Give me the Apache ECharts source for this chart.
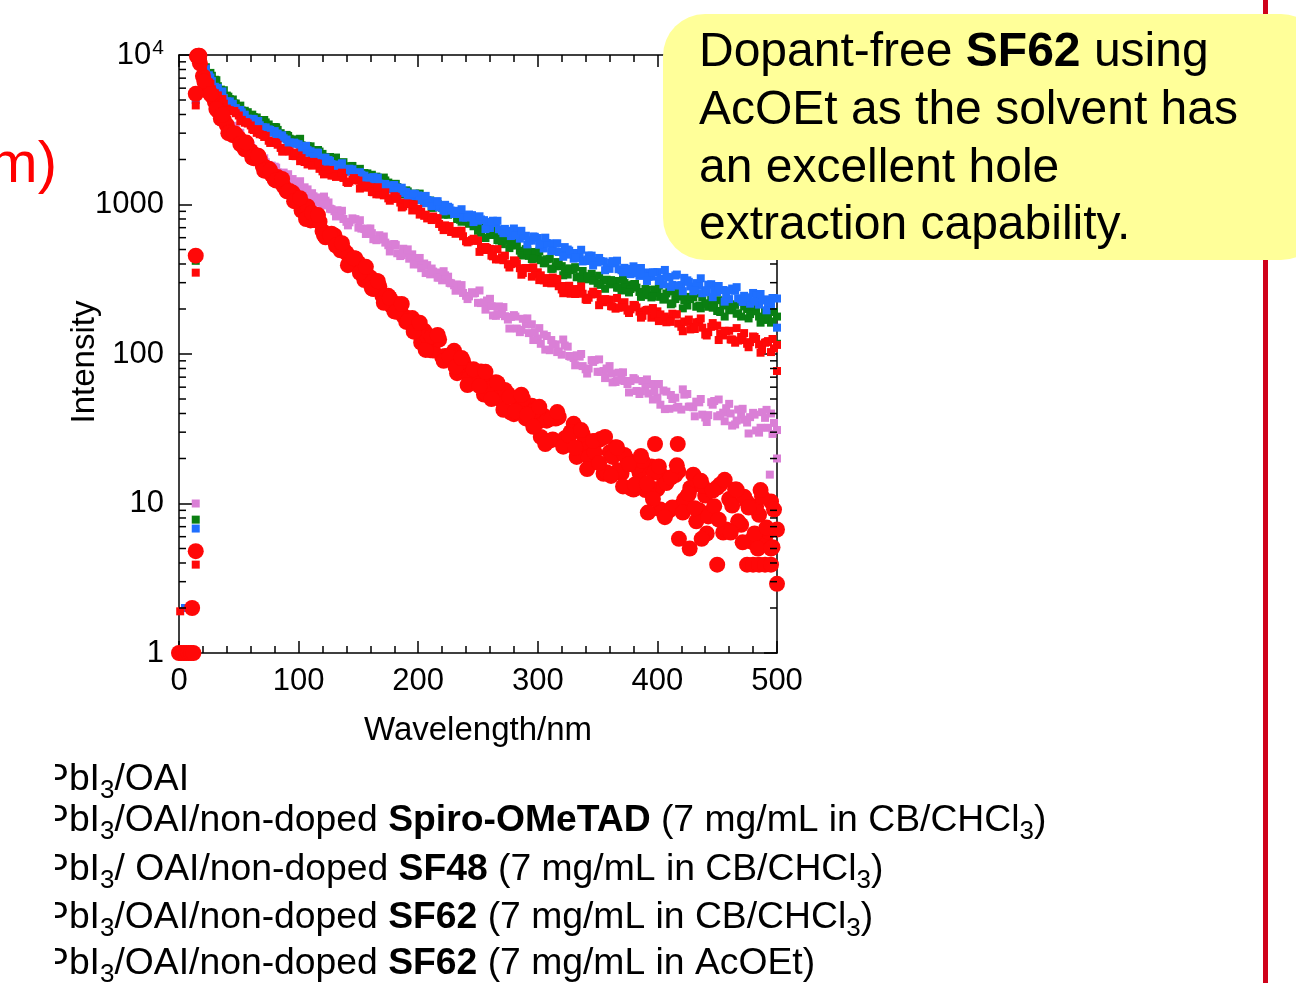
<!DOCTYPE html>
<html>
<head>
<meta charset="utf-8">
<script src="https://cdn.jsdelivr.net/npm/echarts@6/dist/echarts.min.js"></script>
<style>
html,body{margin:0;padding:0;background:#ffffff;}
#chart{width:1296px;height:983px;}
</style>
</head>
<body>
<div id="chart"></div>
<script>
// ---------------- DATA ----------------
// channel times
const time = [15,20,25,30,35,40,45,50,55,60,65,70,75,80,85,90,95,100,105,110,115,120,125,130,135,140,145,150,155,160,165,170,175,180,185,190,195,200,205,210,215,220,225,230,235,240,245,250,255,260,265,270,275,280,285,290,295,300,305,310,315,320,325,330,335,340,345,350,355,360,365,370,375,380,385,390,395,400,405,410,415,420,425,430,435,440,445,450,455,460,465,470,475,480,485,490,495,500];
const timeHalf = [17.5,22.5,27.5,32.5,37.5,42.5,47.5,52.5,57.5,62.5,67.5,72.5,77.5,82.5,87.5,92.5,97.5,102.5,107.5,112.5,117.5,122.5,127.5,132.5,137.5,142.5,147.5,152.5,157.5,162.5,167.5,172.5,177.5,182.5,187.5,192.5,197.5,202.5,207.5,212.5,217.5,222.5,227.5,232.5,237.5,242.5,247.5,252.5,257.5,262.5,267.5,272.5,277.5,282.5,287.5,292.5,297.5,302.5,307.5,312.5,317.5,322.5,327.5,332.5,337.5,342.5,347.5,352.5,357.5,362.5,367.5,372.5,377.5,382.5,387.5,392.5,397.5,402.5,407.5,412.5,417.5,422.5,427.5,432.5,437.5,442.5,447.5,452.5,457.5,462.5,467.5,472.5,477.5,482.5,487.5,492.5,497.5];
const timeQuarter = [16.25,21.25,26.25,31.25,36.25,41.25,46.25,51.25,56.25,61.25,66.25,71.25,76.25,81.25,86.25,91.25,96.25,101.25,106.25,111.25,116.25,121.25,126.25,131.25,136.25,141.25,146.25,151.25,156.25,161.25,166.25,171.25,176.25,181.25,186.25,191.25,196.25,201.25,206.25,211.25,216.25,221.25,226.25,231.25,236.25,241.25,246.25,251.25,256.25,261.25,266.25,271.25,276.25,281.25,286.25,291.25,296.25,301.25,306.25,311.25,316.25,321.25,326.25,331.25,336.25,341.25,346.25,351.25,356.25,361.25,366.25,371.25,376.25,381.25,386.25,391.25,396.25,401.25,406.25,411.25,416.25,421.25,426.25,431.25,436.25,441.25,446.25,451.25,456.25,461.25,466.25,471.25,476.25,481.25,486.25,491.25,496.25];

// blue squares
const blueVals = [9900,8500,7320,6130,5630,4900,4720,4230,3990,3630,
  3590,3290,3180,3100,2790,2720,2550,2530,2215,2270,
  2220,1985,1985,1765,1785,1655,1720,1575,1560,1420,
  1475,1350,1340,1350,1195,1215,1135,1150,1020,1060,
  1047,952,966,864,878,818,849,779,786,696,
  751,667,665,691,591,618,573,597,508,549,
  547,482,500,434,458,419,455,410,416,371,
  404,363,368,386,333,351,329,353,292,327,
  335,289,311,263,287,259,293,259,268,233,
  265,232,238,256,214,232,216,235];
const blueHalf = [9045,8100,6695,6035,5155,4895,4415,4135,3750,3720,
  3390,3280,3020,2985,2775,2600,2560,2360,2310,2100,
  2010,2060,1865,1850,1660,1735,1612,1582,1450,1525,
  1380,1373,1260,1300,1220,1148,1172,1080,1072,984,
  957,995,909,908,817,857,798,794,711,779,
  683,687,615,662,615,575,608,547,552,495,
  481,519,462,474,416,456,419,419,378,418,
  369,377,342,371,348,328,351,318,328,290,
  287,323,283,298,255,291,265,268,237,274,
  236,245,217,245,228,214,237];
const blueQuarter = [9860,7910,7070,5985,5705,4855,4350,4290,3715,3740,
  3620,3210,3150,2935,2905,2547,2595,2340,2470,2085,
  2220,1870,1952,1764,1888,1670,1542,1646,1409,1511,
  1513,1311,1337,1249,1295,1103,1182,1068,1142,975,
  1052,900,951,864,930,824,763,834,685,765,
  778,643,667,621,667,541,611,538,600,488,
  550,447,491,439,498,428,391,439,363,408,
  421,352,370,347,376,308,352,308,365,281,
  340,263,304,267,321,267,240,285,224,266,
  280,223,239,224,252,196,237];

// green squares
const greenVals = [9950,9000,7515,6830,5870,5350,5040,4420,4235,3920,
  3820,3455,3430,3300,3000,2920,2655,2610,2380,2450,
  2220,2180,1960,2015,1827,1800,1811,1600,1622,1518,
  1536,1356,1402,1372,1237,1244,1108,1120,1031,1063,
  966,948,854,878,791,775,775,667,684,627,
  645,543,574,568,491,503,431,448,404,433,
  386,387,340,367,329,330,344,296,311,292,
  308,266,289,293,260,272,239,256,231,262,
  233,242,211,240,211,217,233,194,211,196,
  213,178,200,206,178,191,162,178];
const greenHalf = [9590,8280,7260,6185,5810,5070,4735,4250,4145,3845,
  3595,3540,3275,3155,2890,2755,2725,2490,2460,2190,
  2260,2080,2023,1840,1920,1733,1711,1565,1614,1510,
  1417,1448,1328,1309,1195,1152,1183,1073,1066,952,
  983,906,882,799,829,743,729,646,683,625,
  575,601,534,532,470,453,481,424,430,372,
  402,366,364,326,359,316,321,290,314,294,
  278,298,272,278,252,247,270,241,254,218,
  251,229,233,207,240,207,215,191,215,200,
  187,208,185,193,171,169,191];
const greenQuarter = [9920,8215,7590,6785,5645,5265,4740,4585,3955,3990,
  3625,3675,3235,3285,2867,2875,2633,2751,2396,2190,
  2315,1965,2078,2061,1772,1795,1674,1732,1472,1581,
  1423,1514,1287,1375,1167,1223,1106,1183,1038,951,
  1007,855,906,897,767,772,715,748,597,665,
  579,638,511,569,456,493,434,485,412,371,
  412,336,374,381,317,331,309,334,273,312,
  278,314,258,294,241,268,242,287,238,215,
  256,202,241,254,202,218,204,229,178,215,
  186,223,173,209,162,188,165];

// red squares (upper red band)
const redSmallVals = [9800,7820,6550,5550,5060,4380,4210,3940,3525,3380,
  3015,2920,2670,2615,2390,2295,2110,2130,1925,1880,
  1885,1666,1683,1568,1588,1413,1463,1445,1296,1306,
  1170,1191,1099,1136,1030,1014,912,935,840,815,
  811,708,710,656,654,568,578,574,496,505,
  429,444,397,423,375,375,329,352,311,309,
  318,270,281,260,272,232,250,252,222,231,
  201,213,195,213,192,195,175,193,169,172,
  184,152,164,152,164,135,152,155,133,143,
  119,130,117,131,116,119,103,115];
const redSmallHalf = [8800,7290,5900,5365,4725,4265,4080,3680,3480,3150,
  2950,2880,2615,2510,2270,2260,2105,2043,1853,1927,
  1732,1711,1560,1604,1505,1422,1458,1338,1319,1208,
  1170,1207,1097,1090,972,1005,924,895,807,832,
  741,725,655,666,613,567,571,516,512,450,
  430,455,399,403,348,376,341,336,299,325,
  284,285,253,272,253,238,253,229,231,208,
  204,222,199,205,180,198,183,184,163,186,
  160,165,146,163,150,140,154,137,142,125,
  123,138,120,126,107,122,109];
const redSmallQuarter = [9660,7280,6420,5340,5067,4270,4225,3610,3555,3190,
  3193,2830,2580,2582,2260,2285,2225,1949,1961,1819,
  1876,1590,1703,1529,1632,1394,1502,1278,1336,1213,
  1305,1151,1060,1125,956,1014,1003,856,855,787,
  806,674,717,637,668,558,590,482,520,455,
  503,424,379,418,339,376,380,312,322,297,
  316,255,286,252,283,230,261,212,233,209,
  237,205,188,212,175,197,203,166,178,164,
  184,142,170,147,173,133,161,124,143,125,
  149,124,111,130,102,120,126];

// violet squares
const pinkVals = [9700,7610,6295,4965,4310,3585,3360,2890,2650,2485,
  2120,2010,1840,1790,1575,1557,1480,1304,1303,1092,
  1115,986,1032,902,889,766,808,700,685,691,
  577,587,534,544,452,474,464,399,403,341,
  351,311,329,288,284,245,259,220,221,234,
  180,193,170,182,140,158,158,127,135,106,
  116,99,112,94,96,79,91,76,77,83,
  65,70,63,69,54,61,63,51,57,43,
  51,42.5,54,44,47.5,37.6,47.6,38.3,40.5,46.4,
  33.8,39.4,34.8,40.4,29.8,37.4,40,31];
const pinkHalf = [8600,7150,5510,4690,3880,3420,3210,2765,2570,2210,
  2135,1918,1820,1640,1635,1460,1395,1218,1262,1135,
  1032,1061,930,915,800,760,798,690,689,586,
  623,556,541,472,506,434,428,375,393,356,
  325,336,297,292,256,243,256,219,228,181,
  208,179,177,148,172,138,140,117,132,116,
  104,114,96,98,83,80,91,76,80,64.6,
  75,66,66,56.6,66,54.4,56,45.8,56,50,
  44.3,53.5,44.5,48,39.3,39,48.5,39,43.4,33.2,
  42.5,36.4,37.8,30.8,40.8,32.1,34.6];
const pinkQuarter = [8960,7810,5755,4595,4260,3395,3270,3020,2500,2360,
  2097,2038,1728,1763,1568,1594,1353,1431,1120,1190,
  1030,1130,937,832,908,725,791,785,635,643,
  583,611,485,535,459,501,397,439,348,373,
  324,358,299,265,289,233,254,266,198,209,
  185,206,148,178,145,173,124,149,107,124,
  103,125,97,84,100,74,88.5,92,69,74,
  66.7,75.4,55.3,67.6,56.3,67.6,49.6,63,42.8,53.2,
  43.8,58,44.4,38.3,50,35.1,45.8,49.6,35.5,40,
  35.9,43,29.4,39.3,32.1,42.3,29.2];

// big red circles (lower red band)
const redBigVals = [9800,7230,5700,4870,3760,3395,2910,2780,2340,2280,
  2125,1817,1737,1470,1413,1230,1199,1021,976,783,
  822,664,628,621,494,475,405,407,312,325,
  308,246,245,193,196,164,174,141,143,106,
  126,96,96,105,78,81,68.5,76,53.6,64,
  64.6,48.8,54,39.6,45.5,37.1,45,35.1,38.7,26.3,
  37,26,28,34.1,22.6,25.7,20.9,26.3,15.8,22,
  23.8,15.9,19.6,12.4,16.1,12.3,17.7,12.5,15.1,9,
  15.5,9.7,11.2,15.6,9,11.3,8.8,12.8,6.4,10.7,
  12.4,7.2,10.2,5.5,8.4,5.9,10.3,6.7];
const redBigHalf = [8800,6250,5345,4255,3675,3035,2945,2520,2360,2042,
  1995,1770,1578,1525,1323,1233,1060,912,970,788,
  767,603,637,534,501,409,436,347,331,272,
  283,243,211,216,180,173,143,119,132,105.5,
  125,97,98.6,74.4,89.5,68.8,69.5,76.4,53.6,59.9,
  51,57.5,40.6,49,50.2,37.7,41.9,27.9,35.8,26.8,
  37.9,27.3,30.1,20.5,29.1,20.4,22,27,16.2,20.5,
  16.7,21.1,12.7,17.7,19.3,13,16.1,9.1,13.7,9.4,
  16.4,10.6,12.7,7.6,13.2,8.2,9.6,13.4,6.7,9.7,
  7.6,11.1,5.6,9.5,11.1,6.5,9.1];
const redBigQuarter = [9890,6643,5484,4355,3978,2998,3001,2539,2596,2060,
  2118,1684,1692,1446,1483,1220,1052,1102,800,877,
  850,624,622,531,551,393,437,349,383,275,
  307,220,237,192,216,166,141,162,106.5,131,
  134,90,96,82,94,62,79,61,76,50,
  64,42.3,51.5,41.4,53.4,39.3,32.6,44.3,25,37,
  40.9,24,28.5,23.7,31,17,26.2,18.6,27.9,15.3,
  23.7,13,18.3,13.4,20.8,13.6,10.7,17.7,8.1,14.9,
  18,8.7,11.6,9.3,14.2,6.3,12.2,7.8,14.4,6.4,
  12.4,5.5,9.4,6.3,12.3,6.9,5.1];

// pre-pulse channels, rising edge, isolated points and last channel
const redBigExtraX = [0,2,4,6,8,10,12,11,14,14,14,17,398,417,392,418,437,427,450,475,480,485,490,495,484,495,500];
const redBigExtraY = [1,1,1,1,1,1,1,2,4.8,455,5500,9900,25,25,8.7,5.8,5.8,5,3.9,3.9,3.9,3.9,3.9,3.9,5,5,2.9];
const redSmallExtraX = [0,4,8,12,1,14,14,14,500];
const redSmallExtraY = [1,1,1,1,1.9,3.9,350,4600,77];
const blueExtraX = [0,4,8,12,5,14,14,500];
const blueExtraY = [1,1,1,1,2,6.8,5000,150];
const greenExtraX = [0,4,8,12,14,14,500];
const greenExtraY = [1,1,1,1,7.8,420,117];
const pinkExtraX = [0,4,8,12,14,494,500];
const pinkExtraY = [1,1,1,1,10,15.6,20];

const xTicks = [0,100,200,300,400,500];
const yTicks = [1,10,100,1000,10000];

const seriesNames = [
  'PbI3/OAI/non-doped SF62 (7 mg/mL in CB/CHCl3)',
  'PbI3/OAI/non-doped Spiro-OMeTAD (7 mg/mL in CB/CHCl3)',
  'PbI3/OAI',
  'PbI3/ OAI/non-doped SF48 (7 mg/mL in CB/CHCl3)',
  'PbI3/OAI/non-doped SF62 (7 mg/mL in AcOEt)'
];

// ---------------- CHART ----------------
const FONT = '"Liberation Sans", Arial, sans-serif';
const chart = echarts.init(document.getElementById('chart'), null, {renderer: 'canvas'});

function pairs(xs, ys) { return xs.map((x, i) => [x, ys[i]]); }

const COLORS = {green: '#0a7f12', blue: '#1f6fff', pink: '#da7fd6', red: '#ff0808'};

function smallSeries(name, color, vals, half, quarter, ex, ey) {
  return {
    name: name, type: 'scatter', symbol: 'rect', symbolSize: 8, clip: false,
    itemStyle: {color: color, opacity: 1},
    data: pairs(time, vals).concat(pairs(timeHalf, half)).concat(pairs(timeQuarter, quarter)).concat(pairs(ex, ey))
  };
}

const tickStyle = {color: '#000', width: 1.5};
const axisLineStyle = {show: true, onZero: false, lineStyle: {color: '#000', width: 1.5}};

function xAxisDef(pos, labels) {
  return {
    type: 'value', min: xTicks[0], max: xTicks[xTicks.length - 1], interval: 100, position: pos,
    axisLine: axisLineStyle,
    axisTick: {show: true, inside: true, length: 12, lineStyle: tickStyle},
    minorTick: {show: true, splitNumber: 5, length: 7, lineStyle: tickStyle},
    splitLine: {show: false}, minorSplitLine: {show: false},
    axisLabel: labels ? {show: true, fontSize: 31, color: '#000', fontFamily: FONT, margin: 13} : {show: false},
    name: labels ? 'Wavelength/nm' : '',
    nameLocation: 'middle', nameGap: 61,
    nameTextStyle: {fontSize: 33, color: '#000', fontFamily: FONT}
  };
}
function yAxisDef(pos, labels) {
  return {
    type: 'log', logBase: 10, min: yTicks[0], max: yTicks[yTicks.length - 1], position: pos,
    axisLine: axisLineStyle,
    axisTick: {show: true, inside: true, length: 13, lineStyle: tickStyle},
    minorTick: {show: false},
    splitLine: {show: false},
    axisLabel: labels ? {
      show: true, fontSize: 31, color: '#000', fontFamily: FONT, margin: 15,
      formatter: function (v) { return v >= 9999 ? '{b|10}{s|4}' : String(Math.round(v)); },
      rich: {
        b: {fontSize: 31, color: '#000', fontFamily: FONT, lineHeight: 34},
        s: {fontSize: 21, color: '#000', fontFamily: FONT, verticalAlign: 'top', lineHeight: 21, padding: [0, 0, 0, 1]}
      }
    } : {show: false},
    name: labels ? 'Intensity' : '',
    nameLocation: 'middle', nameGap: 78, nameMoveOverlap: false,
    nameTextStyle: {fontSize: 33, color: '#000', fontFamily: FONT, padding: [0, 16, 0, 0]}
  };
}

const option = {
  animation: false,
  backgroundColor: '#ffffff',
  grid: {left: 179, top: 55, width: 598, height: 598, containLabel: false},
  xAxis: [xAxisDef('bottom', true), xAxisDef('top', false)],
  yAxis: [yAxisDef('left', true), yAxisDef('right', false)],
  series: [
    smallSeries(seriesNames[0], COLORS.pink, pinkVals, pinkHalf, pinkQuarter, pinkExtraX, pinkExtraY),
    smallSeries(seriesNames[1], COLORS.green, greenVals, greenHalf, greenQuarter, greenExtraX, greenExtraY),
    smallSeries(seriesNames[2], COLORS.blue, blueVals, blueHalf, blueQuarter, blueExtraX, blueExtraY),
    smallSeries(seriesNames[3], COLORS.red, redSmallVals, redSmallHalf, redSmallQuarter, redSmallExtraX, redSmallExtraY),
    {
      name: seriesNames[4], type: 'scatter', symbol: 'circle', symbolSize: 16, clip: false,
      itemStyle: {color: COLORS.red, opacity: 1},
      data: pairs(time, redBigVals).concat(pairs(timeHalf, redBigHalf)).concat(pairs(timeQuarter, redBigQuarter)).concat(pairs(redBigExtraX, redBigExtraY))
    }
  ]
};
chart.setOption(option);

// ---------------- decorations: log minor ticks, texts, box ----------------
const gridL = chart.convertToPixel({xAxisIndex: 0}, xTicks[0]);
const gridR = chart.convertToPixel({xAxisIndex: 0}, xTicks[xTicks.length - 1]);
const graphics = [];
for (let d = 1; d < 10000; d *= 10) {
  for (let k = 2; k <= 9; k++) {
    const py = chart.convertToPixel({yAxisIndex: 0}, k * d);
    graphics.push({type: 'line', z: 50, shape: {x1: gridL, y1: py, x2: gridL + 7, y2: py}, style: {stroke: '#000', lineWidth: 1.5}});
    graphics.push({type: 'line', z: 50, shape: {x1: gridR - 7, y1: py, x2: gridR, y2: py}, style: {stroke: '#000', lineWidth: 1.5}});
  }
}

// red vertical divider line on the right
graphics.push({type: 'rect', z: 60, shape: {x: 1263, y: 0, width: 5, height: 983}, style: {fill: '#d0021b'}});
// yellow annotation box
graphics.push({type: 'rect', z: 70, shape: {x: 663, y: 14, width: 660, height: 246, r: 42}, style: {fill: '#ffff99'}});

const annFont = 48;
const annRich = {
  t: {fontSize: annFont, fontFamily: FONT, fill: '#000'},
  b: {fontSize: annFont, fontFamily: FONT, fontWeight: 'bold', fill: '#000'}
};
const annLines = ['{t|Dopant-free }{b|SF62}{t| using}', '{t|AcOEt as the solvent has}', '{t|an excellent hole}', '{t|extraction capability.}'];
const annY = [53, 111, 169, 226];
annLines.forEach((s, i) => {
  graphics.push({type: 'text', z: 80, x: 699, y: annY[i], style: {text: s, rich: annRich, fontSize: annFont, fontFamily: FONT, fill: '#000', align: 'left', verticalAlign: 'middle'}});
});

// red partial title text at top-left
graphics.push({type: 'text', z: 80, x: 57, y: 166, style: {text: 'm)', fontSize: 58, fontFamily: FONT, fill: '#ff0000', align: 'right', verticalAlign: 'middle'}});

// legend text lines (left part cropped)
const legFont = 37.3;
const legRich = {
  t: {fontSize: legFont, fontFamily: FONT, fill: '#000', lineHeight: 48},
  b: {fontSize: legFont, fontFamily: FONT, fontWeight: 'bold', fill: '#000', lineHeight: 48},
  s: {fontSize: 26, fontFamily: FONT, fill: '#000', lineHeight: 26, verticalAlign: 'bottom'}
};
const legLines = [
  '{t|PbI}{s|3}{t|/OAI}',
  '{t|PbI}{s|3}{t|/OAI/non-doped }{b|Spiro-OMeTAD}{t| (7 mg/mL in CB/CHCl}{s|3}{t|)}',
  '{t|PbI}{s|3}{t|/ OAI/non-doped }{b|SF48}{t| (7 mg/mL in CB/CHCl}{s|3}{t|)}',
  '{t|PbI}{s|3}{t|/OAI/non-doped }{b|SF62}{t| (7 mg/mL in CB/CHCl}{s|3}{t|)}',
  '{t|PbI}{s|3}{t|/OAI/non-doped }{b|SF62}{t| (7 mg/mL in AcOEt)}'
];
const legY = [780, 821, 870, 918, 964];
legLines.forEach((s, i) => {
  graphics.push({type: 'text', z: 80, x: 44, y: legY[i], style: {text: s, rich: legRich, fontSize: legFont, fontFamily: FONT, fill: '#000', align: 'left', verticalAlign: 'middle'}});
});
// white mask hiding the cropped left part of the legend
graphics.push({type: 'rect', z: 90, shape: {x: 0, y: 740, width: 55, height: 243}, style: {fill: '#ffffff'}});

chart.setOption({graphic: graphics});
</script>
</body>
</html>
